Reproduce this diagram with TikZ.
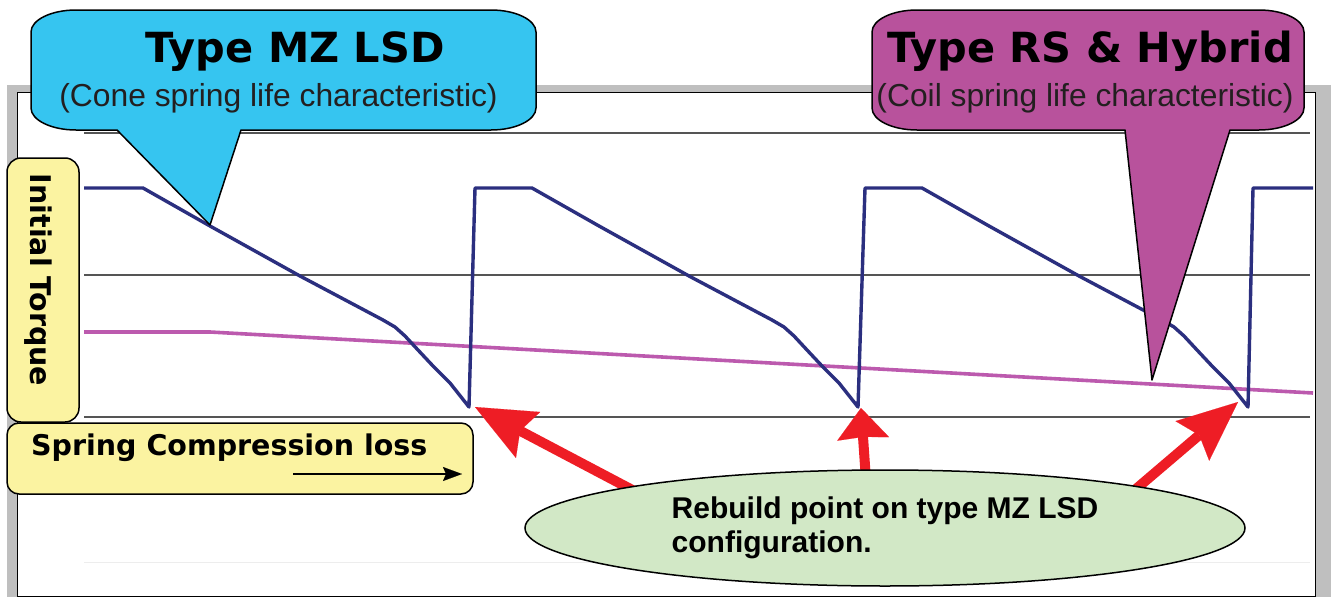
\documentclass[tikz,border=0pt]{standalone}
\usepackage{fontspec}
\usetikzlibrary{arrows.meta,shapes.geometric}
\newfontfamily\djv{DejaVu Sans}
\newfontfamily\lib{Liberation Sans}
\definecolor{cyanb}{HTML}{36C5F0}
\definecolor{magb}{HTML}{B8529C}
\definecolor{ylw}{HTML}{FBF3A1}
\definecolor{grn}{HTML}{D2E8C6}
\definecolor{navy}{HTML}{2B2F7F}
\definecolor{pinkl}{HTML}{BC5AAE}
\definecolor{redA}{HTML}{EE1D25}
\definecolor{frameg}{HTML}{BFBFBF}
\definecolor{subt}{HTML}{231F20}
\definecolor{gridc}{HTML}{555555}
\begin{document}
\begin{tikzpicture}[x=1pt,y=-1pt,
  gridline/.style={draw=gridc, line width=1.3pt},
  ybox/.style={draw=black, fill=ylw, line width=1.5pt, rounded corners=14pt, inner sep=0pt},
  callout/.style={draw=black, line width=1.5pt, line join=round},
  redarrow/.style={draw=redA, line width=10pt},
  titletext/.style={anchor=base, inner sep=0pt, font=\djv\bfseries\fontsize{41.5}{45}\selectfont},
  subtext/.style={anchor=base, inner sep=0pt, text=subt, font=\lib\fontsize{31.8}{36}\selectfont},
  labeltext/.style={inner sep=0pt, font=\djv\bfseries\fontsize{28.5}{32}\selectfont}]
\useasboundingbox (0,0) rectangle (1331,597);
\fill[white] (0,0) rectangle (1331,597);
% frame
\fill[frameg] (7,85) rectangle (1331,597);
\draw[fill=white, line width=1pt] (17,92) rectangle (1315,596);
% grid
\draw[gridline] (84,133) -- (1310,133);
\draw[gridline] (84,275) -- (1310,275);
\draw[gridline] (84,417) -- (1310,417);
\draw[draw=black!7, line width=1pt] (84,562) -- (1310,562);
% curves
\draw[pinkl, line width=3.6pt] (84,332) -- (210,332) -- (1313,393);
\draw[navy, line width=3.4pt, line join=round]
  (84,188) -- (143,188) -- (210,226) -- (300,276) -- (383,320) -- (395,327) -- (405,336) -- (418,350) -- (433,366) -- (450,383) -- (469,407)
  -- (475,188) -- (532,188) -- (599,226) -- (689,276) -- (772,320) -- (784,327) -- (794,336) -- (807,350) -- (822,366) -- (839,383) -- (858,407)
  -- (865,188) -- (922,188) -- (989,226) -- (1079,276) -- (1162,320) -- (1174,327) -- (1184,336) -- (1197,350) -- (1212,366) -- (1229,383) -- (1248,407)
  -- (1253,188) -- (1313,188);
% red arrows
\coordinate (a1s) at (640,494); \coordinate (a1t) at (475,407);
\coordinate (a2s) at (866,480); \coordinate (a2t) at (861,408);
\coordinate (a3s) at (1120,502.6); \coordinate (a3t) at (1238,402);
\draw[redarrow, -{Stealth[length=60pt,width=52pt,inset=9pt,line width=0.1pt]}] (a1s) -- (a1t);
\draw[redarrow, -{Stealth[length=31pt,width=52pt,inset=2pt,line width=0.1pt]}] (a2s) -- (a2t);
\draw[redarrow, -{Stealth[length=60pt,width=52pt,inset=9pt,line width=0.1pt]}] (a3s) -- (a3t);
% note ellipse
\node[ellipse, draw=black, line width=1.5pt, fill=grn, minimum width=720pt, minimum height=116pt,
  align=left, font=\lib\bfseries\fontsize{30}{34}\selectfont] (note) at (885,528)
  {Rebuild point on type MZ LSD\\configuration.};
% yellow boxes
\node[ybox, rounded corners=12pt, minimum width=466pt, minimum height=71pt] (springbox) at (240,458.5) {};
\node[ybox, minimum width=72pt, minimum height=264pt] (torquebox) at (43,290) {};
\node[labeltext, rotate=-90] (torque) at (38,280) {Initial Torque};
\node[labeltext, anchor=base west] (spring) at (31,455) {Spring Compression loss};
\coordinate (lossA) at (293,474); \coordinate (lossB) at (462,474);
\draw[line width=1.5pt, -{Stealth[length=19pt,width=14pt,inset=3pt,line width=0.1pt]}] (lossA) -- (lossB);
% callouts
\draw[callout, fill=cyanb] (31,32) .. controls (31,19.9) and (51.2,10) .. (76,10) -- (491,10)
  .. controls (515.8,10) and (536,19.9) .. (536,32) -- (536,108)
  .. controls (536,120.1) and (515.8,130) .. (491,130) -- (241,130) -- (210,225) -- (117,130) -- (76,130)
  .. controls (51.2,130) and (31,120.1) .. (31,108) -- cycle;
\draw[callout, fill=magb] (872,32) .. controls (872,19.9) and (892.2,10) .. (917,10) -- (1259,10)
  .. controls (1283.8,10) and (1304,19.9) .. (1304,32) -- (1304,108)
  .. controls (1304,120.1) and (1283.8,130) .. (1259,130) -- (1230,130) -- (1152,380) -- (1125,130) -- (917,130)
  .. controls (892.2,130) and (872,120.1) .. (872,108) -- cycle;
\node[titletext] (mztitle) at (295,62) {Type MZ LSD};
\node[subtext] (mzsub) at (278.5,106) {(Cone spring life characteristic)};
\node[titletext] (rstitle) at (1090,62) {Type RS \& Hybrid};
\node[subtext] (rssub) at (1085,106) {(Coil spring life characteristic)};
\end{tikzpicture}
\end{document}
